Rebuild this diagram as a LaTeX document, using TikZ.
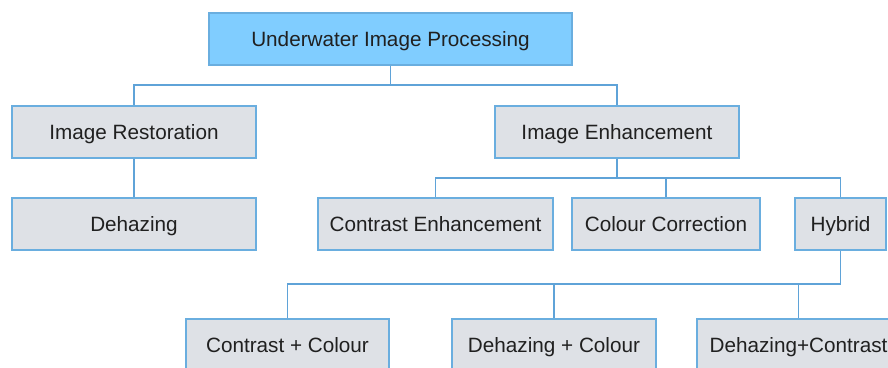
\documentclass[tikz,border=0pt]{standalone}
\usepackage{fontspec}
\setmainfont{Liberation Sans}
\begin{document}
\begin{tikzpicture}[x=1pt,y=-1pt,
  box/.style={draw=boxline, line width=1.3pt, fill=boxgray, minimum height=52pt,
    inner sep=0pt, text height=18pt, text depth=3.4pt, text=textdark,
    font=\fontsize{20.7}{24}\selectfont},
  rootbox/.style={box, fill=rootblue},
  link/.style={draw=linkblue, line width=1.3pt}]
\definecolor{boxline}{HTML}{6AAEDF}
\definecolor{boxgray}{HTML}{DEE1E6}
\definecolor{rootblue}{HTML}{80CDFF}
\definecolor{linkblue}{HTML}{5FA3D8}
\definecolor{textdark}{HTML}{202020}
\useasboundingbox (0,0) rectangle (888,367);
\clip (0,0) rectangle (888,367);
\fill[white] (0,0) rectangle (888,367);
% nodes
\node[rootbox, minimum width=363pt] (root) at (390.5,39) {Underwater Image Processing};
\node[box, minimum width=244pt] (rest) at (134,132) {Image Restoration};
\node[box, minimum width=244pt] (dehaz) at (134,224) {Dehazing};
\node[box, minimum width=244pt] (enh) at (617,132) {Image Enhancement};
\node[box, minimum width=235pt] (contr) at (435.5,224) {Contrast Enhancement};
\node[box, minimum width=188pt] (colcor) at (666,224) {Colour Correction};
\node[box, minimum width=91pt] (hyb) at (840.5,224) {Hybrid};
\node[box, minimum width=203pt] (cc) at (287.5,345) {Contrast + Colour};
\node[box, minimum width=204pt] (dc) at (554,345) {Dehazing + Colour};
\node[box, minimum width=203pt] (dct) at (798.5,345) {Dehazing+Contrast};
% bus coordinates
\coordinate (b1) at (390.5,85);
\coordinate (b2) at (617,178);
\coordinate (b3) at (840.5,284);
% connectors
\draw[link] (root) -- (b1) -| (rest);
\draw[link] (b1) -| (enh);
\draw[link] (rest) -- (dehaz);
\draw[link] (enh) -- (b2) -| (contr);
\draw[link] (b2) -| (colcor);
\draw[link] (b2) -| (hyb);
\draw[link] (hyb) -- (b3) -| (cc);
\draw[link] (b3) -| (dc);
\draw[link] (b3) -| (dct);
\end{tikzpicture}
\end{document}
